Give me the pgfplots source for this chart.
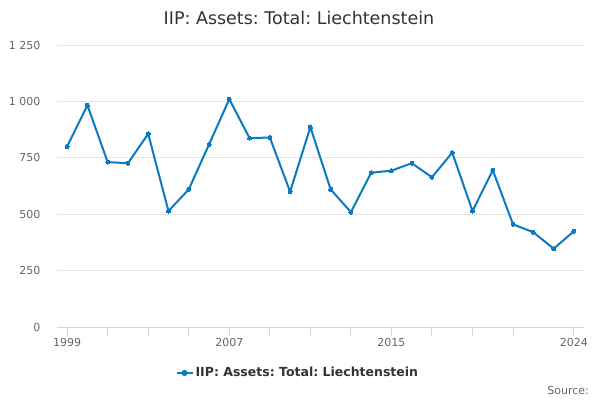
\documentclass[border=0pt]{standalone}
\usepackage{pgfplots}
\pgfplotsset{compat=1.18}
\usepackage{fontspec}
\setmainfont{DejaVu Sans}
\frenchspacing
\definecolor{linec}{HTML}{0A7BC2}
\definecolor{gridc}{HTML}{E6E6E6}
\definecolor{axisc}{HTML}{CCD6EB}
\definecolor{tickc}{HTML}{666666}
\definecolor{titlec}{HTML}{333333}
\begin{document}
\begin{tikzpicture}[x=1pt,y=1pt]
\path[use as bounding box] (0,0) rectangle (600,400);
\begin{axis}[
  at={(57pt,73pt)}, anchor=south west,
  scale only axis, width=527pt, height=282pt,
  xmin=1998.5, xmax=2024.5, ymin=0, ymax=1250,
  axis y line*=left, axis x line*=bottom,
  y axis line style={draw=none},
  x axis line style={draw=axisc, line width=1pt},
  ytick={0,250,500,750,1000,1250},
  yticklabels={0,250,500,750,1 000,1 250},
  ymajorgrids, xmajorgrids=false,
  major grid style={draw=gridc, line width=0.8pt},
  major y tick style={draw=none},
  xtick={1999,2001,2003,2005,2007,2009,2011,2013,2015,2017,2019,2021,2024},
  xticklabels={1999,,,,2007,,,,2015,,,,2024},
  major x tick style={draw=axisc, line width=1pt},
  tick align=outside, major tick length=9pt,
  ticklabel style={font=\fontsize{11}{13}\selectfont, text=tickc},
  yticklabel style={anchor=east, xshift=-4pt},
  xticklabel style={anchor=north, yshift=1pt},
  /pgf/number format/assume math mode=true,
  legend style={at={(0.457,-0.163)}, anchor=center, draw=none, fill=none,
    font=\fontsize{12.5}{14}\selectfont\bfseries, text=titlec},
  legend image code/.code={\draw[#1, line width=2pt] (0pt,0pt) -- (16pt,0pt); \fill[linec] (8pt,0pt) circle (2pt);},
  clip=false,
]
\addplot[linec, line width=2pt, mark=*, mark size=2pt, mark options={fill=linec, draw=linec, line width=0pt}] coordinates {
(1999,800) (2000,983) (2001,731) (2002,726) (2003,856) (2004,514)
(2005,610) (2006,809) (2007,1010) (2008,837) (2009,840) (2010,600)
(2011,886) (2012,610) (2013,509) (2014,684) (2015,693) (2016,726)
(2017,664) (2018,773) (2019,514) (2020,695) (2021,455) (2022,420)
(2023,347) (2024,424)
};
\addlegendentry{IIP: Assets: Total: Liechtenstein}
\end{axis}
\node[text=titlec, font=\fontsize{17.5}{20}\selectfont] at (299,382) {IIP: Assets: Total: Liechtenstein};
\node[anchor=east, text=tickc, font=\fontsize{11}{13}\selectfont, inner sep=0pt] at (589,10) {Source:};
\end{tikzpicture}
\end{document}
